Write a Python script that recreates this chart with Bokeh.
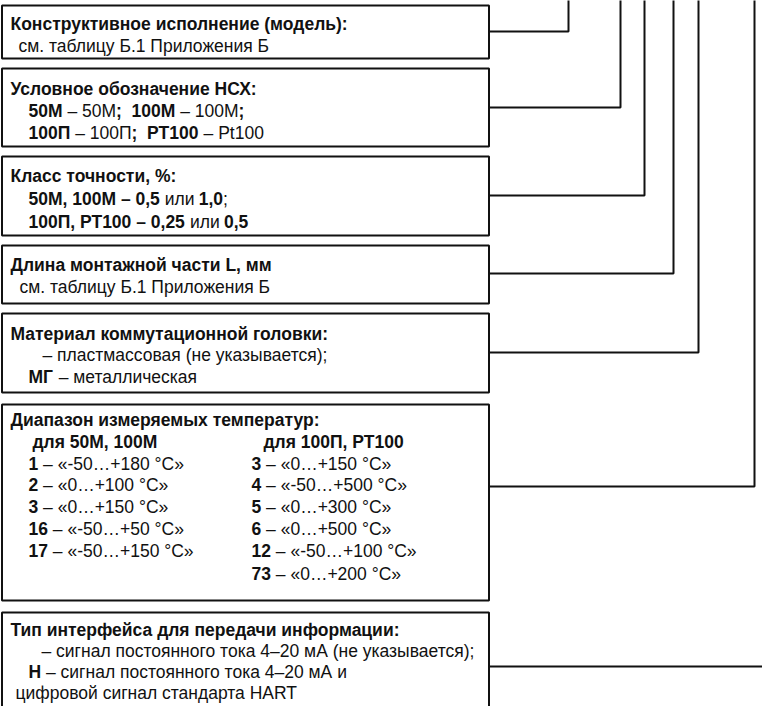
from bokeh.plotting import figure
from bokeh.models import Range1d, ColumnDataSource
from bokeh.core.properties import value
from bokeh.embed import file_html
from bokeh.resources import INLINE

# ---- structure of the diagram (page pixel coordinates) ----
box_left = 9.5
box_right = 496.5
box_tops = [13, 76, 164, 253, 321, 412, 620]
box_bottoms = [66, 154, 243, 311, 400, 608, 740]
conn_y = [39, 115, 203, 281, 360, 494, 674]
conn_x = [576, 628, 652, 681, 706, 762, 800]

# ---- text content: (y, x, [(run, bold), ...]) ----
B, N = True, False
lines = [
    (31, 18, [("Конструктивное исполнение (модель):", B)]),
    (53, 26, [("см. таблицу Б.1 Приложения Б", N)]),

    (96, 18, [("Условное обозначение НСХ:", B)]),
    (118, 36, [("50М", B), (" – 50М", N), (";  100М", B), (" – 100М", N), (";", B)]),
    (140, 36, [("100П", B), (" – 100П", N), (";  РТ100", B), (" – Pt100", N)]),

    (183, 18, [("Класс точности, %:", B)]),
    (206, 36, [("50М, 100М – 0,5", B), (" или ", N), ("1,0", B), (";", N)]),
    (229, 36, [("100П, РТ100 – 0,25", B), (" или ", N), ("0,5", B)]),

    (272, 18, [("Длина монтажной части L, мм", B)]),
    (294, 27, [("см. таблицу Б.1 Приложения Б", N)]),

    (341, 18, [("Материал коммутационной головки:", B)]),
    (362, 50, [("– пластмассовая (не указывается);", N)]),
    (384, 36, [("МГ", B), (" – металлическая", N)]),

    (427, 18, [("Диапазон измеряемых температур:", B)]),
    (449, 40, [("для 50М, 100М", B)]),
    (449, 271, [("для 100П, РТ100", B)]),

    (637, 18, [("Тип интерфейса для передачи информации:", B)]),
    (658, 49, [("– сигнал постоянного тока 4–20 мА (не указывается);", N)]),
    (679, 36, [("Н", B), (" – сигнал постоянного тока 4–20 мА и", N)]),
    (700, 23, [("цифровой сигнал стандарта HART", N)]),
]

range_codes_left = ["1", "2", "3", "16", "17"]
range_text_left = ["«-50…+180 °С»", "«0…+100 °С»", "«0…+150 °С»", "«-50…+50 °С»", "«-50…+150 °С»"]
range_codes_right = ["3", "4", "5", "6", "12", "73"]
range_text_right = ["«0…+150 °С»", "«-50…+500 °С»", "«0…+300 °С»", "«0…+500 °С»", "«-50…+100 °С»", "«0…+200 °С»"]
range_rows_y = [471, 492, 514, 536, 558, 581]

for i, (c, t) in enumerate(zip(range_codes_left, range_text_left)):
    lines.append((range_rows_y[i], 36, [(c, B), (" – " + t, N)]))
for i, (c, t) in enumerate(zip(range_codes_right, range_text_right)):
    lines.append((range_rows_y[i], 259, [(c, B), (" – " + t, N)]))

FONT = "Liberation Sans"
FS = 17.5
W_REG = {" ": 278, "–": 556, "М": 833, "П": 719, "Р": 667, "Т": 611, "Н": 719, "Г": 552,
         ",": 278, ";": 278, "P": 667, "t": 278, "и": 556, "л": 552, "«": 556, "»": 556}
W_BOLD = dict(W_REG)
W_BOLD.update({";": 333, "Г": 611, "и": 611, "л": 583, "Н": 722, "П": 722})


def run_width(s, bold):
    tab = W_BOLD if bold else W_REG
    return sum(tab.get(ch, 556) for ch in s) * FS / 1000.0


xs, ys, txt, sty = [], [], [], []
for y, x0, runs in lines:
    x = x0
    for s, bold in runs:
        xs.append(x)
        ys.append(y)
        txt.append(s.replace(" ", "\u00a0"))
        sty.append("bold" if bold else "normal")
        x += run_width(s, bold)

p = figure(width=762, height=706, output_backend="svg", toolbar_location=None,
           x_range=Range1d(8, 770), y_range=Range1d(714, 8),
           min_border=0, outline_line_color=None, background_fill_color="white")
p.axis.visible = False
p.grid.visible = False

p.quad(left=[box_left] * len(box_tops), right=[box_right] * len(box_tops),
       top=box_tops, bottom=box_bottoms, fill_color=None,
       line_color="#111111", line_width=2)

cx_list = [[box_right, cx, cx] for cx in conn_x[:-1]] + [[box_right, conn_x[-1]]]
cy_list = [[cy, cy, -20] for cy in conn_y[:-1]] + [[conn_y[-1], conn_y[-1]]]
p.multi_line(xs=cx_list, ys=cy_list, line_color="#111111", line_width=2)

src = ColumnDataSource(dict(x=xs, y=ys, text=txt, style=sty))
p.text(x="x", y="y", text="text", source=src, text_font=value(FONT),
       text_font_size=f"{FS}px", text_font_style="style", text_color="#111111",
       text_baseline="middle", text_align="left")

open("out.html", "w").write(file_html(p, INLINE))
